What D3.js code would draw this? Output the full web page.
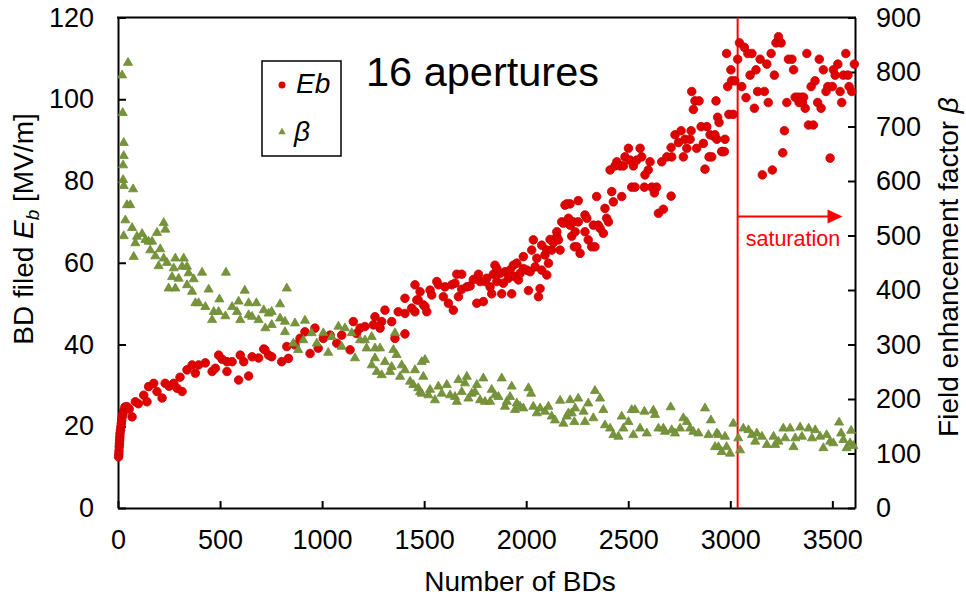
<!DOCTYPE html>
<html>
<head>
<meta charset="utf-8">
<script src="https://cdn.jsdelivr.net/npm/d3@7"></script>
<style>
  html, body { margin: 0; padding: 0; background: #fff; }
  svg { display: block; }
</style>
</head>
<body>
<div id="chart"></div>
<script>
// BD 电场 Eb 与场增强因子 β 随击穿次数变化（16 apertures）
// 双纵轴：左 Eb [MV/m]，右 β；红圆点 = Eb，橄榄绿三角 = β

const X_TICKS = [0, 500, 1000, 1500, 2000, 2500, 3000, 3500];
const YL_TICKS = [0, 20, 40, 60, 80, 100, 120];
const YR_TICKS = [0, 100, 200, 300, 400, 500, 600, 700, 800, 900];

// [BD 次数, Eb (MV/m)]
const ebPoints = [
  [3,12.5],[4,13.2],[5,14],[6,15],[7,15.8],[8,16.6],[9,17.4],[10,18.2],[12,19],[14,19.8],[16,20.6],[18,21.4],
  [20,22.2],[24,23],[28,23.8],[34,24.7],[44,24.8],[55,24.2],[69,22.3],[85,26],[100,25.5],[126,27.6],[142,26],
  [150,29.7],[175,30.5],[191,28.5],[216,26.9],[231,30.5],[250,29.8],[273,30.5],[289,29.3],[314,28.5],[304,32],
  [338,33.8],[363,35],[379,33],[395,35],[428,35.5],[461,33.4],[477,34.2],[493,37.4],[510,36.4],[534,35.8],
  [534,33.4],[559,35.8],[591,31.3],[599,37.4],[616,35.8],[640,32.3],[657,37],[689,36.7],[714,38.9],[738,37.4],
  [720,38.7],[753,37],[802,35.8],[827,39.5],[835,36.6],[867,39.9],[892,41.5],[916,43.1],[941,37.8],[965,44],
  [981,39.1],[1006,41.5],[1039,42.3],[1072,40.3],[1096,42.3],[1137,38.7],[1153,45.6],[1186,44],[1210,44.4],
  [1169,42.7],[1251,44.8],[1259,46.8],[1292,45.6],[1284,44],[1308,48.4],[1341,45.6],[1357,41.5],[1373,48],
  [1406,51.3],[1406,47.6],[1406,42.6],[1439,48.9],[1455,54.6],[1471,50.9],[1480,52.9],[1496,49.7],
  [1464,50.9],[1455,48],[1504,49.3],[1513,48],[1529,53.3],[1537,52.1],[1562,55.4],[1570,54.6],[1594,51.7],
  [1602,54.1],[1619,50.1],[1635,54.6],[1643,48.4],[1651,55],[1660,57.2],[1684,57.2],[1668,51.7],[1684,53.5],
  [1709,54.1],[1725,54.3],[1741,55.9],[1758,50.1],[1766,57.2],[1774,55.4],[1790,50.5],[1798,55.4],[1807,56.2],
  [1823,54.1],[1831,52.4],[1839,57.2],[1847,59.4],[1856,58.6],[1856,55.4],[1872,57.4],[1880,52.4],[1888,55],
  [1896,57.8],[1913,56.2],[1921,58.2],[1929,52.4],[1937,59.4],[1945,56.6],[1954,59.9],[1962,55.8],[1970,57.4],
  [1986,61.5],[1986,58.6],[2003,58.2],[2011,53.2],[2019,57.8],[2027,63.1],[2035,65.6],[2044,59],[2052,61.1],
  [2060,51.7],[2068,53.7],[2076,64.3],[2076,58.2],[2092,61.9],[2101,57],[2109,59.9],[2101,63.1],[2117,65.7],
  [2125,63.1],[2133,64.9],[2150,67.6],[2150,66.4],[2158,65.6],[2166,63.1],[2174,70],[2182,69.7],[2199,74.4],
  [2215,74.4],[2207,70.9],[2215,69.2],[2223,66.5],[2236,63.9],[2190,74.1],[2255,75.2],[2231,70],[2240,67.6],
  [2255,70],[2288,71.7],[2297,70.9],[2288,67.6],[2304,65.6],[2248,63.9],[2264,62.3],[2321,63.9],[2337,63.9],
  [2329,69.2],[2353,69.2],[2362,68.4],[2378,67.2],[2345,76.2],[2386,73.3],[2394,70.9],[2403,70],[2419,77.4],
  [2427,74.9],[2468,76.2],[2411,82.7],[2444,84.7],[2435,83.7],[2460,83.7],[2476,83.7],[2484,85.9],[2501,88],
  [2509,85.1],[2525,83.7],[2541,85.1],[2558,88],[2566,85.9],[2607,84.7],[2598,82.7],[2582,81.5],[2517,78.5],
  [2533,78.5],[2579,78.5],[2615,78.5],[2639,78.5],[2628,77.1],[2648,72.1],[2672,73.1],[2710,76.3],[2664,84.7],
  [2689,85.9],[2713,85.9],[2710,88.2],[2729,91.3],[2746,89.4],[2759,92.3],[2770,85.9],[2778,90.2],[2787,88],
  [2803,90.2],[2808,92.3],[2835,88],[2857,93.3],[2868,89.2],[2885,93.3],[2876,82.9],[2896,85.9],[2909,85.9],
  [2901,91.3],[2917,91],[2934,90.2],[2938,95.6],[2945,94.3],[2958,87.2],[2811,101.9],[2827,99.6],[2847,99.6],
  [2819,97.5],[2930,99.6],[2925,91.3],[2974,90.2],[2961,87.2],[2971,87.2],[2982,111.2],[2987,103.1],
  [3003,107.2],[3006,104.5],[3022,104.5],[2993,96.3],[3014,96.3],[3036,109.8],[3045,113.8],[3056,103.1],
  [3069,112.7],[3077,100.4],[3086,111.2],[3097,105.9],[3106,111.2],[3118,97.8],[3126,107.2],[3134,101.9],
  [3146,109.8],[3157,81.5],[3167,101.9],[3179,108.6],[3186,99.2],[3200,111.2],[3206,82.7],[3216,105.9],
  [3224,113.8],[3236,115.3],[3249,113.8],[3257,86.9],[3265,92.3],[3277,99.2],[3285,109.8],[3302,109.8],
  [3310,107.2],[3318,100.5],[3331,100.5],[3347,100.5],[3359,100.5],[3337,99.2],[3353,99.2],[3367,97.8],
  [3375,111.2],[3383,93.7],[3407,93.7],[3396,103.1],[3415,104.5],[3428,99.2],[3436,109.8],[3445,97.8],
  [3456,107.2],[3469,101.9],[3478,103.1],[3489,85.6],[3500,103.1],[3505,107.2],[3514,105.9],[3527,108.6],
  [3538,101.9],[3546,99.2],[3554,105.9],[3566,111.2],[3576,105.9],[3582,103.1],[3595,101.9],[3608,108.6]
];

// [BD 次数, β]
const betaPoints = [
  [49,817],[20,794],[23,725],[28,670],[28,646],[25,629],[25,602],[28,591],[74,585],[44,556],[60,556],[36,528],
  [28,499],[69,514],[93,498],[118,503],[85,486],[134,492],[150,489],[167,489],[77,461],[158,473],[183,462],
  [191,505],[224,523],[232,511],[207,475],[224,458],[199,444],[240,450],[281,458],[273,440],[322,458],[314,443],
  [338,443],[265,424],[297,421],[346,431],[371,420],[248,403],[281,403],[338,409],[363,397],[412,432],[444,401],
  [379,376],[395,376],[428,369],[461,345],[469,360],[497,383],[493,360],[526,352],[529,432],[559,369],[583,360],
  [591,379],[599,345],[621,399],[640,376],[640,354],[657,351],[678,376],[689,345],[714,363],[722,330],[738,357],
  [827,403],[794,374],[753,360],[794,348],[818,342],[753,336],[867,339],[916,344],[818,323],[859,302],[908,308],
  [949,321],[883,290],[974,302],[1006,321],[1030,285],[1047,314],[1080,333],[1096,296],[1112,330],[1145,321],
  [1161,275],[1186,308],[1210,308],[1243,314],[1218,293],[1259,293],[1284,293],[1259,275],[1243,262],[1268,250],
  [1292,244],[1308,268],[1333,250],[1341,259],[1349,290],[1357,321],[1365,281],[1382,241],[1390,262],[1406,253],
  [1431,232],[1455,253],[1447,226],[1480,213],[1496,241],[1488,268],[1504,272],[1471,220],[1488,210],[1529,217],
  [1521,207],[1553,198],[1570,223],[1586,210],[1611,226],[1627,207],[1651,204],[1660,195],[1668,235],[1684,213],
  [1700,229],[1709,241],[1717,201],[1733,210],[1749,213],[1758,226],[1774,198],[1790,238],[1798,195],[1823,195],
  [1831,217],[1847,207],[1864,204],[1880,238],[1896,186],[1905,195],[1921,204],[1929,223],[1945,180],[1954,192],
  [1970,186],[1986,183],[2011,220],[2024,210],[2035,186],[2052,174],[2068,183],[2092,177],[2109,186],[2125,168],
  [2141,161],[2166,197],[2182,155],[2199,168],[2215,198],[2223,174],[2236,158],[2255,201],[2337,215],[2362,201],
  [2304,192],[2240,183],[2281,177],[2207,174],[2288,158],[2329,165],[2378,180],[2386,152],[2411,146],[2427,134],
  [2452,131],[2468,168],[2476,146],[2501,158],[2517,180],[2533,180],[2525,134],[2558,146],[2579,177],[2591,137],
  [2623,179],[2631,171],[2648,146],[2672,146],[2680,140],[2708,185],[2713,143],[2729,137],[2754,146],[2770,165],
  [2787,158],[2803,146],[2819,140],[2844,137],[2876,183],[2905,161],[2893,134],[2934,137],[2942,112],[2958,103],
  [3015,155],[3039,128],[3048,106],[2999,100],[2974,131],[2942,134],[2925,112],[2982,112],[3064,146],[3089,143],
  [3106,134],[3130,137],[3122,122],[3155,131],[3179,116],[3212,131],[3220,116],[3236,122],[3260,146],[3269,128],
  [3293,146],[3310,112],[3318,128],[3342,148],[3351,131],[3384,146],[3400,128],[3416,143],[3440,131],[3456,110],
  [3472,134],[3489,122],[3505,119],[3533,157],[3543,137],[3554,125],[3570,110],[3592,142],[3587,119],[3603,114]
];

// 饱和起点与箭头（x 为 BD 次数，y 为 Eb 刻度）
const SAT_X = 3036;
const ARROW = { x1: 3036, x2: 3550, y: 71.3 };
const SAT_LABEL = { x: 3307, y: 64.1, text: "saturation" };

const W = 966, H = 597;
const L = 118, R = 855, T = 17.5, B = 508;
const FONT = "'Liberation Sans', Arial, sans-serif";
const RED = "#e00000", GREEN = "#77933c";

const svg = d3.select("#chart").append("svg")
  .attr("width", W).attr("height", H)
  .style("font-family", FONT);
svg.append("rect").attr("width", W).attr("height", H).attr("fill", "#fff");

const x = d3.scaleLinear().domain([0, 3611]).range([L, R]);
const yL = d3.scaleLinear().domain([0, 120]).range([B, T]);
const yR = d3.scaleLinear().domain([0, 900]).range([B, T]);

// 轴（刻度朝内）
const styleAxis = g => {
  g.select(".domain").attr("stroke", "#000").attr("stroke-width", 2);
  g.selectAll(".tick line").attr("stroke", "#000").attr("stroke-width", 2);
  g.selectAll(".tick text").attr("fill", "#000").style("font-size", "27px").style("font-family", FONT);
};
svg.append("g").attr("transform", `translate(0,${B})`)
  .call(d3.axisBottom(x).tickValues(X_TICKS).tickFormat(d3.format("d"))
    .tickSize(-7).tickSizeOuter(0).tickPadding(22))
  .call(styleAxis);
svg.append("g").attr("transform", `translate(${L},0)`)
  .call(d3.axisLeft(yL).tickValues(YL_TICKS).tickSize(-8).tickSizeOuter(0).tickPadding(24))
  .call(styleAxis);
svg.append("g").attr("transform", `translate(${R},0)`)
  .call(d3.axisRight(yR).tickValues(YR_TICKS).tickSize(-7).tickSizeOuter(0).tickPadding(21))
  .call(styleAxis);
// 顶框
svg.append("line").attr("x1", L - 1).attr("x2", R + 1).attr("y1", T).attr("y2", T)
  .attr("stroke", "#000").attr("stroke-width", 2);

// 轴标题
svg.append("text").attr("x", 520).attr("y", 591).attr("text-anchor", "middle")
  .style("font-size", "28px").text("Number of BDs");

const lt = svg.append("text").attr("transform", "translate(33,229) rotate(-90)")
  .attr("text-anchor", "middle").style("font-size", "28px");
lt.append("tspan").text("BD filed ");
lt.append("tspan").style("font-style", "italic").text("E");
lt.append("tspan").attr("dy", 6).style("font-size", "19px").style("font-style", "italic").text("b");
lt.append("tspan").attr("dy", -6).text(" [MV/m]");

const rt = svg.append("text").attr("transform", "translate(958,267) rotate(-90)")
  .attr("text-anchor", "middle").style("font-size", "28px");
rt.append("tspan").text("Field enhancement factor ");
rt.append("tspan").style("font-style", "italic").text("β");

// 饱和线
svg.append("line").attr("x1", x(SAT_X)).attr("x2", x(SAT_X)).attr("y1", T).attr("y2", B)
  .attr("stroke", "#ff0000").attr("stroke-width", 2);

// 数据点：先 Eb（红圆），再 β（绿三角）
svg.append("g").selectAll("circle").data(ebPoints).join("circle")
  .attr("cx", d => x(d[0])).attr("cy", d => yL(d[1])).attr("r", 4.3)
  .attr("fill", RED).attr("stroke", "#c80000").attr("stroke-width", 0.8);

const tri = d3.symbol(d3.symbolTriangle).size(36);
svg.append("g").selectAll("path").data(betaPoints).join("path")
  .attr("transform", d => `translate(${x(d[0])},${yR(d[1])})`)
  .attr("d", tri).attr("fill", GREEN).attr("stroke", "#6f8d33").attr("stroke-width", 0.8);

// 饱和箭头与标签
const ax1 = x(ARROW.x1), ax2 = x(ARROW.x2), ay = yL(ARROW.y);
svg.append("line").attr("x1", ax1).attr("x2", ax2 - 12).attr("y1", ay).attr("y2", ay)
  .attr("stroke", "#ff0000").attr("stroke-width", 2);
svg.append("path").attr("d", `M${ax2},${ay} L${ax2 - 15},${ay - 7} L${ax2 - 15},${ay + 7} Z`)
  .attr("fill", "#ff0000");
svg.append("text").attr("x", x(SAT_LABEL.x)).attr("y", yL(SAT_LABEL.y)).attr("text-anchor", "middle")
  .attr("fill", "#ff0000").style("font-size", "21.5px").text(SAT_LABEL.text);

// 标题
svg.append("text").attr("x", 366).attr("y", 86).style("font-size", "41.5px").text("16 apertures");

// 图例
const lg = svg.append("g");
lg.append("rect").attr("x", 262).attr("y", 61).attr("width", 79).attr("height", 95)
  .attr("fill", "#fff").attr("stroke", "#000").attr("stroke-width", 1.5);
lg.append("circle").attr("cx", 282).attr("cy", 85).attr("r", 3.5).attr("fill", RED);
lg.append("text").attr("x", 296).attr("y", 93).style("font-size", "28px").style("font-style", "italic").text("Eb");
lg.append("path").attr("transform", "translate(282,132)").attr("d", d3.symbol(d3.symbolTriangle).size(24))
  .attr("fill", GREEN);
lg.append("text").attr("x", 294).attr("y", 141).style("font-size", "28px").style("font-style", "italic").text("β");
</script>
</body>
</html>
